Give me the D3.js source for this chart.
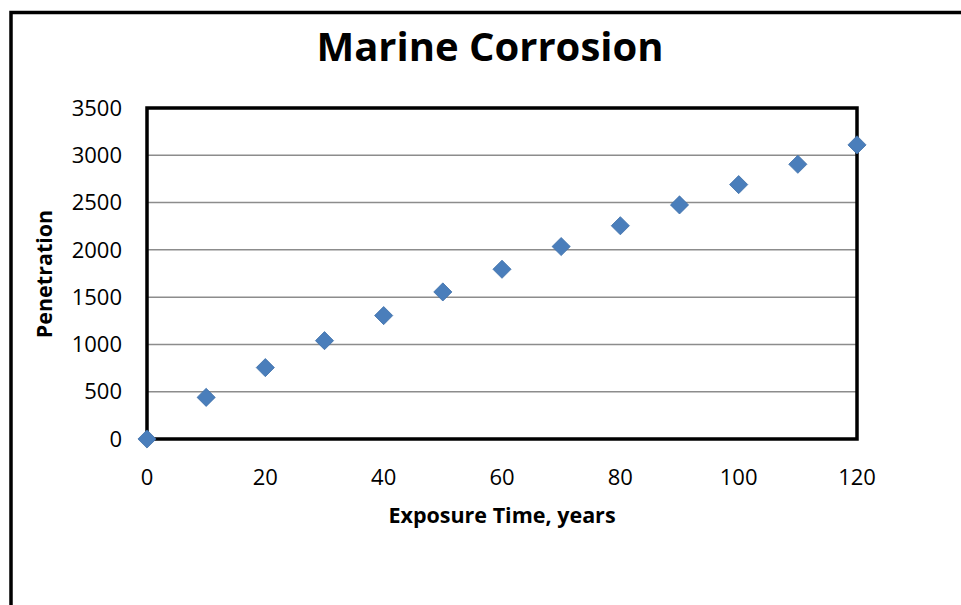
<!DOCTYPE html>
<html>
  <head>
    <style>
      body { margin: 0; overflow: hidden; background: #fff; }
      text { font-family: "Open Sans", sans-serif; fill: #000; }
      .grid line { stroke: #8c8c8c; stroke-width: 1.5px; }
    </style>
  </head>
  <body>
    <svg width="961" height="605"></svg>
    <script src="https://d3js.org/d3.v7.min.js"></script>
    <script>
      // data
      const years = [0, 10, 20, 30, 40, 50, 60, 70, 80, 90, 100, 110, 120];
      const penetration = [0, 440, 755, 1040, 1305, 1555, 1795, 2035, 2255, 2475, 2690, 2905, 3110];
      const xTicks = [0, 20, 40, 60, 80, 100, 120];
      const yTicks = [0, 500, 1000, 1500, 2000, 2500, 3000, 3500];

      const svg = d3.select('svg');
      const plotLeft = 147, plotTop = 108, w = 710, h = 331;

      // outer chart border (runs past the right and bottom of the window)
      svg.append('rect')
        .attr('x', 11).attr('y', 12.5)
        .attr('width', 1000).attr('height', 700)
        .attr('fill', 'none').attr('stroke', '#000').attr('stroke-width', 3.5);

      svg.append('text')
        .attr('x', 490).attr('y', 61)
        .attr('text-anchor', 'middle')
        .style('font-size', '40px').style('font-weight', 'bold')
        .text('Marine Corrosion');

      const x = d3.scaleLinear().domain([0, 120]).range([0, w]);
      const y = d3.scaleLinear().domain([0, 3500]).range([h, 0]);

      const g = svg.append('g').attr('transform', `translate(${plotLeft},${plotTop})`);

      g.append('g').attr('class', 'grid')
        .selectAll('line')
        .data(yTicks.slice(1, -1))
        .join('line')
        .attr('x1', 0).attr('x2', w)
        .attr('y1', d => y(d)).attr('y2', d => y(d));

      g.append('rect')
        .attr('width', w).attr('height', h)
        .attr('fill', 'none').attr('stroke', '#000').attr('stroke-width', 3.5);

      g.append('g')
        .selectAll('text')
        .data(yTicks)
        .join('text')
        .attr('x', -25).attr('y', d => y(d))
        .attr('dy', '0.35em')
        .attr('text-anchor', 'end')
        .style('font-size', '22px')
        .text(d => d);

      g.append('g')
        .selectAll('text')
        .data(xTicks)
        .join('text')
        .attr('x', d => x(d)).attr('y', h + 46)
        .attr('text-anchor', 'middle')
        .style('font-size', '22px')
        .text(d => d);

      const diamond = d3.symbol().type(d3.symbolDiamond2).size(210);
      g.append('g')
        .selectAll('path')
        .data(years)
        .join('path')
        .attr('d', diamond)
        .attr('transform', (d, i) => `translate(${x(d)},${y(penetration[i])})`)
        .attr('fill', '#4a7ebb')
        .attr('stroke', '#3d6ea8').attr('stroke-width', 0.8);

      svg.append('text')
        .attr('x', 502).attr('y', 523)
        .attr('text-anchor', 'middle')
        .style('font-size', '21.5px').style('font-weight', 'bold')
        .text('Exposure Time, years');

      svg.append('text')
        .attr('transform', 'translate(52,274) rotate(-90)')
        .attr('text-anchor', 'middle')
        .style('font-size', '21.5px').style('font-weight', 'bold')
        .text('Penetration');
    </script>
  </body>
</html>
